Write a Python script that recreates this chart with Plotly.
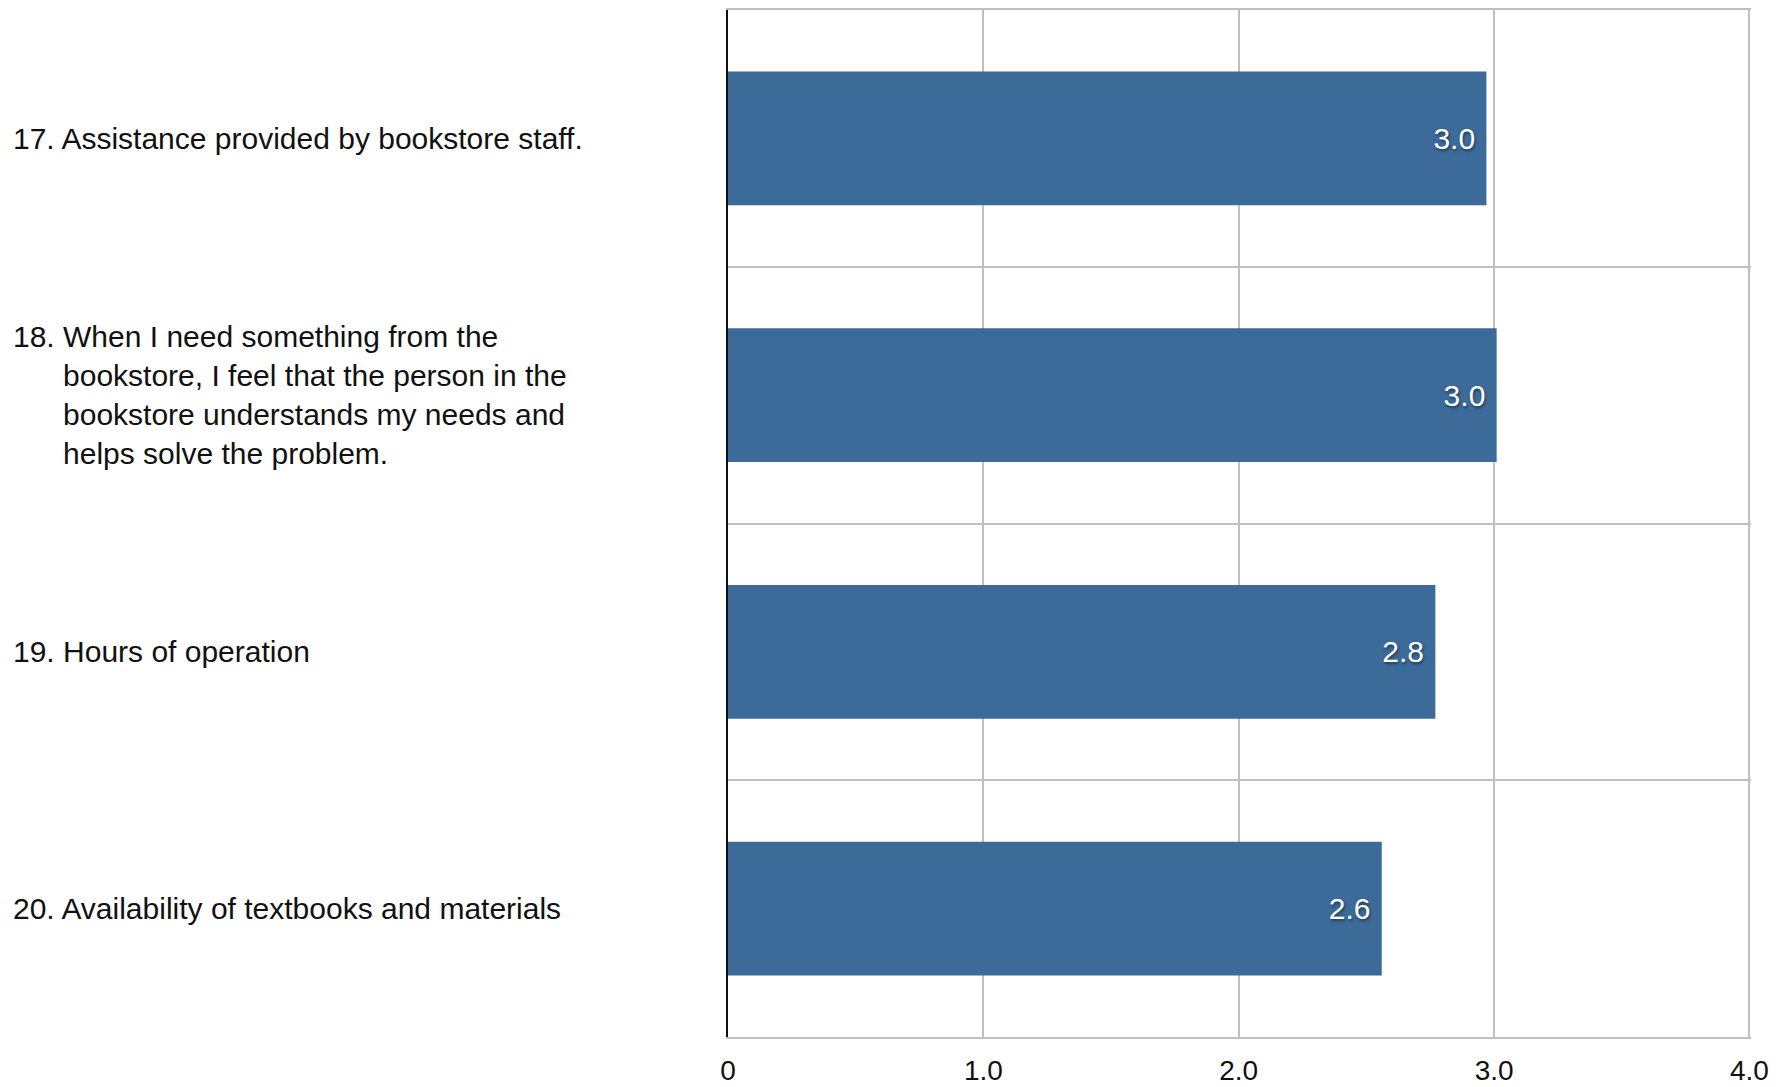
import plotly.graph_objects as go

# ---- data ----
item_numbers = ["17.", "18.", "19.", "20."]
item_texts = [
    "Assistance provided by bookstore staff.",
    "When I need something from the<br>bookstore, I feel that the person in the<br>bookstore understands my needs and<br>helps solve the problem.",
    "Hours of operation",
    "Availability of textbooks and materials",
]
scores = [2.97, 3.01, 2.77, 2.56]
x_tick_vals = [0, 1, 2, 3, 4]
x_tick_text = ["0", "1.0", "2.0", "3.0", "4.0"]

categories = [f"{n} {t.split('<br>')[0]}" for n, t in zip(item_numbers, item_texts)]

BAR = "#3c6b9a"
GRID = "#c0c0c0"
FONT = "Liberation Sans, Helvetica, Arial, sans-serif"

fig = go.Figure(
    go.Bar(
        x=scores,
        y=categories,
        orientation="h",
        marker=dict(color=BAR, line=dict(width=0)),
        texttemplate="%{x:.1f}\u00a0",
        textposition="inside",
        insidetextanchor="end",
        textfont=dict(color="white", size=30, family=FONT,
                      shadow="1px 2px 3px rgba(0,0,0,0.45)"),
        hoverinfo="skip",
    )
)

# category labels with hanging indent
indent = "\u00a0" * 6
for n, t, c in zip(item_numbers, item_texts, categories):
    lines = t.split("<br>")
    txt = f"{n} {lines[0]}" + "".join("<br>" + indent + l for l in lines[1:])
    fig.add_annotation(
        x=-0.7005, xref="paper", xanchor="left",
        y=c, yref="y", yanchor="middle",
        text=txt, align="left", showarrow=False,
        font=dict(size=30, color="#111111", family=FONT),
    )

fig.update_layout(
    width=1774, height=1079,
    margin=dict(l=720, r=31, t=2, b=50, autoexpand=False),
    paper_bgcolor="white", plot_bgcolor="white",
    bargap=0.48,
    showlegend=False,
    font=dict(family=FONT),
)
fig.update_xaxes(
    range=[0, 4.006], tickvals=x_tick_vals, ticktext=x_tick_text,
    showgrid=True, gridcolor=GRID, gridwidth=2,
    showline=True, linecolor=GRID, linewidth=2, mirror=True,
    zeroline=False, ticks="", ticklabelstandoff=7, automargin=False,
    tickfont=dict(size=28, color="#111111", family=FONT),
)
fig.update_yaxes(
    type="category", categoryorder="array", categoryarray=categories,
    range=[3.5, -0.5], tickson="boundaries",
    showgrid=True, gridcolor=GRID, gridwidth=2,
    showline=True, linecolor="#111111", linewidth=2,
    showticklabels=False, ticks="", zeroline=False, automargin=False,
)

fig.write_html("out.html")
